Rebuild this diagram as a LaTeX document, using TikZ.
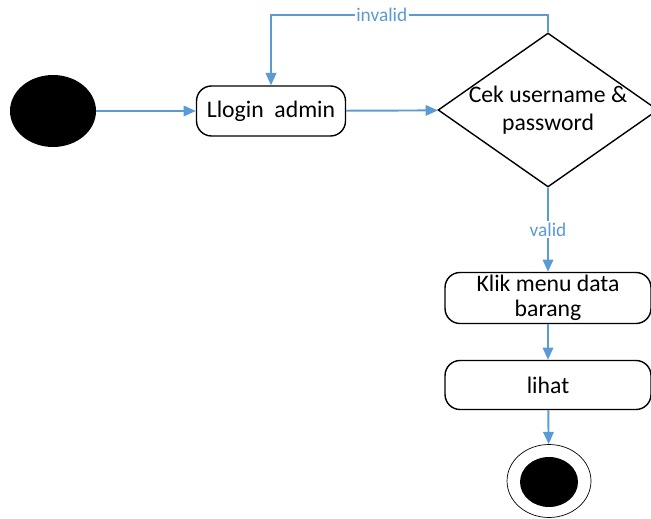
\documentclass[tikz,border=0pt]{standalone}
\usepackage{fontspec}
\setmainfont{Carlito}
\usetikzlibrary{arrows.meta,positioning,shapes.geometric}
\definecolor{flowblue}{RGB}{91,155,213}
\tikzset{
	activity/.style={
		rectangle, draw, thick, rounded corners=3mm,
		align=center, font=\fontsize{13.5}{14.5}\selectfont,
	},
	decide/.style={
		diamond, draw, thick, aspect=1.43, inner sep=-6pt,
		minimum width=4.4cm, minimum height=3.08cm,
		align=center, font=\fontsize{13.5}{16}\selectfont,
	},
	line/.style={
		draw=flowblue, line width=1.1pt, -{Triangle[width=6pt,length=7pt]},
	},
	guard/.style={
		fill=white, text=flowblue, inner sep=1pt, font=\fontsize{11}{12}\selectfont,
	}
}

\begin{document}
\begin{tikzpicture}[x=0.02cm, y=-0.02cm]
	\useasboundingbox (0,0) rectangle (651,519);

	\node [ellipse, fill=black, minimum width=1.72cm, minimum height=1.44cm] (start) at (53,111) {};
	\node [activity, minimum width=2.98cm, minimum height=1cm] (login) at (271,111) {Llogin\ \ admin};
	\node [decide] (cek) at (548,110) {Cek username \&\\password};
	\node [activity, minimum width=4.12cm, minimum height=1.02cm, inner sep=1pt] (klik) at (548,298) {Klik menu data\\barang};
	\node [activity, minimum width=4.12cm, minimum height=0.98cm] (lihat) at (548,385) {lihat};
	\node [ellipse, draw, minimum width=1.68cm, minimum height=1.46cm] (finish) at (549,481) {};
	\node [ellipse, fill=black, minimum width=1.16cm, minimum height=1cm] (finishdot) at (549,482) {};

	\path [line] (start) -- (login);
	\path [line] (login) -- (cek);
	\path [line] (cek.north) -- ++(0,-17) -| node [guard, pos=0.3] {invalid} (login.north);
	\path [line] (cek.south) -- node [guard, pos=0.5] {valid} (klik.north);
	\path [line] (klik) -- (lihat);
	\path [line] (lihat) -- (finish);
\end{tikzpicture}
\end{document}
